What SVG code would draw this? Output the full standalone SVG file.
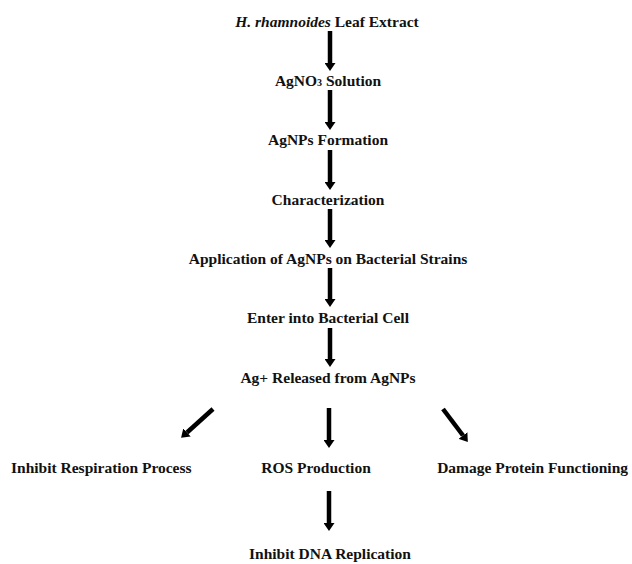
<svg xmlns="http://www.w3.org/2000/svg" width="632" height="564" viewBox="0 0 632 564">
<style>
  text { font-family: "Liberation Serif", "Times New Roman", serif; font-weight: bold; font-size: 15.5px; fill: #111; }
  .c { text-anchor: middle; }
  .arr { stroke: #000; stroke-width: 4.5; fill: none; marker-end: url(#head); }
</style>
<defs>
  <marker id="head" viewBox="0 0 8 11" refX="0" refY="5.5" markerUnits="userSpaceOnUse" markerWidth="8" markerHeight="11" orient="auto">
    <path d="M0,0 L8,5.5 L0,11 Z" fill="#000"/>
  </marker>
</defs>
<rect width="632" height="564" fill="#fff"/>
<g id="connectors">
  <line class="arr" x1="330" y1="31" x2="330" y2="63"/>
  <line class="arr" x1="330" y1="90" x2="330" y2="122"/>
  <line class="arr" x1="330" y1="150" x2="330" y2="182"/>
  <line class="arr" x1="330" y1="209" x2="330" y2="240"/>
  <line class="arr" x1="330" y1="268" x2="330" y2="299"/>
  <line class="arr" x1="330" y1="328" x2="330" y2="359"/>
  <line class="arr" x1="329" y1="408" x2="329" y2="440"/>
  <line class="arr" x1="213" y1="409" x2="187" y2="432.5"/>
  <line class="arr" x1="443" y1="409" x2="463" y2="435.5"/>
  <line class="arr" x1="329" y1="491" x2="329" y2="523"/>
</g>
<g id="n1"><text class="c" x="327" y="27"><tspan font-style="italic">H. rhamnoides</tspan> Leaf Extract</text></g>
<g id="n2"><text class="c" x="328" y="86">AgNO<tspan font-size="10px">3</tspan> Solution</text></g>
<g id="n3"><text class="c" x="328" y="145">AgNPs Formation</text></g>
<g id="n4"><text class="c" x="328" y="205">Characterization</text></g>
<g id="n5"><text class="c" x="328" y="264">Application of AgNPs on Bacterial Strains</text></g>
<g id="n6"><text class="c" x="328" y="323">Enter into Bacterial Cell</text></g>
<g id="n7"><text class="c" x="328" y="383">Ag+ Released from AgNPs</text></g>
<g id="n8"><text x="11" y="473">Inhibit Respiration Process</text></g>
<g id="n9"><text class="c" x="316" y="473">ROS Production</text></g>
<g id="n10"><text x="628" y="473" text-anchor="end">Damage Protein Functioning</text></g>
<g id="n11"><text class="c" x="330" y="559">Inhibit DNA Replication</text></g>
</svg>
